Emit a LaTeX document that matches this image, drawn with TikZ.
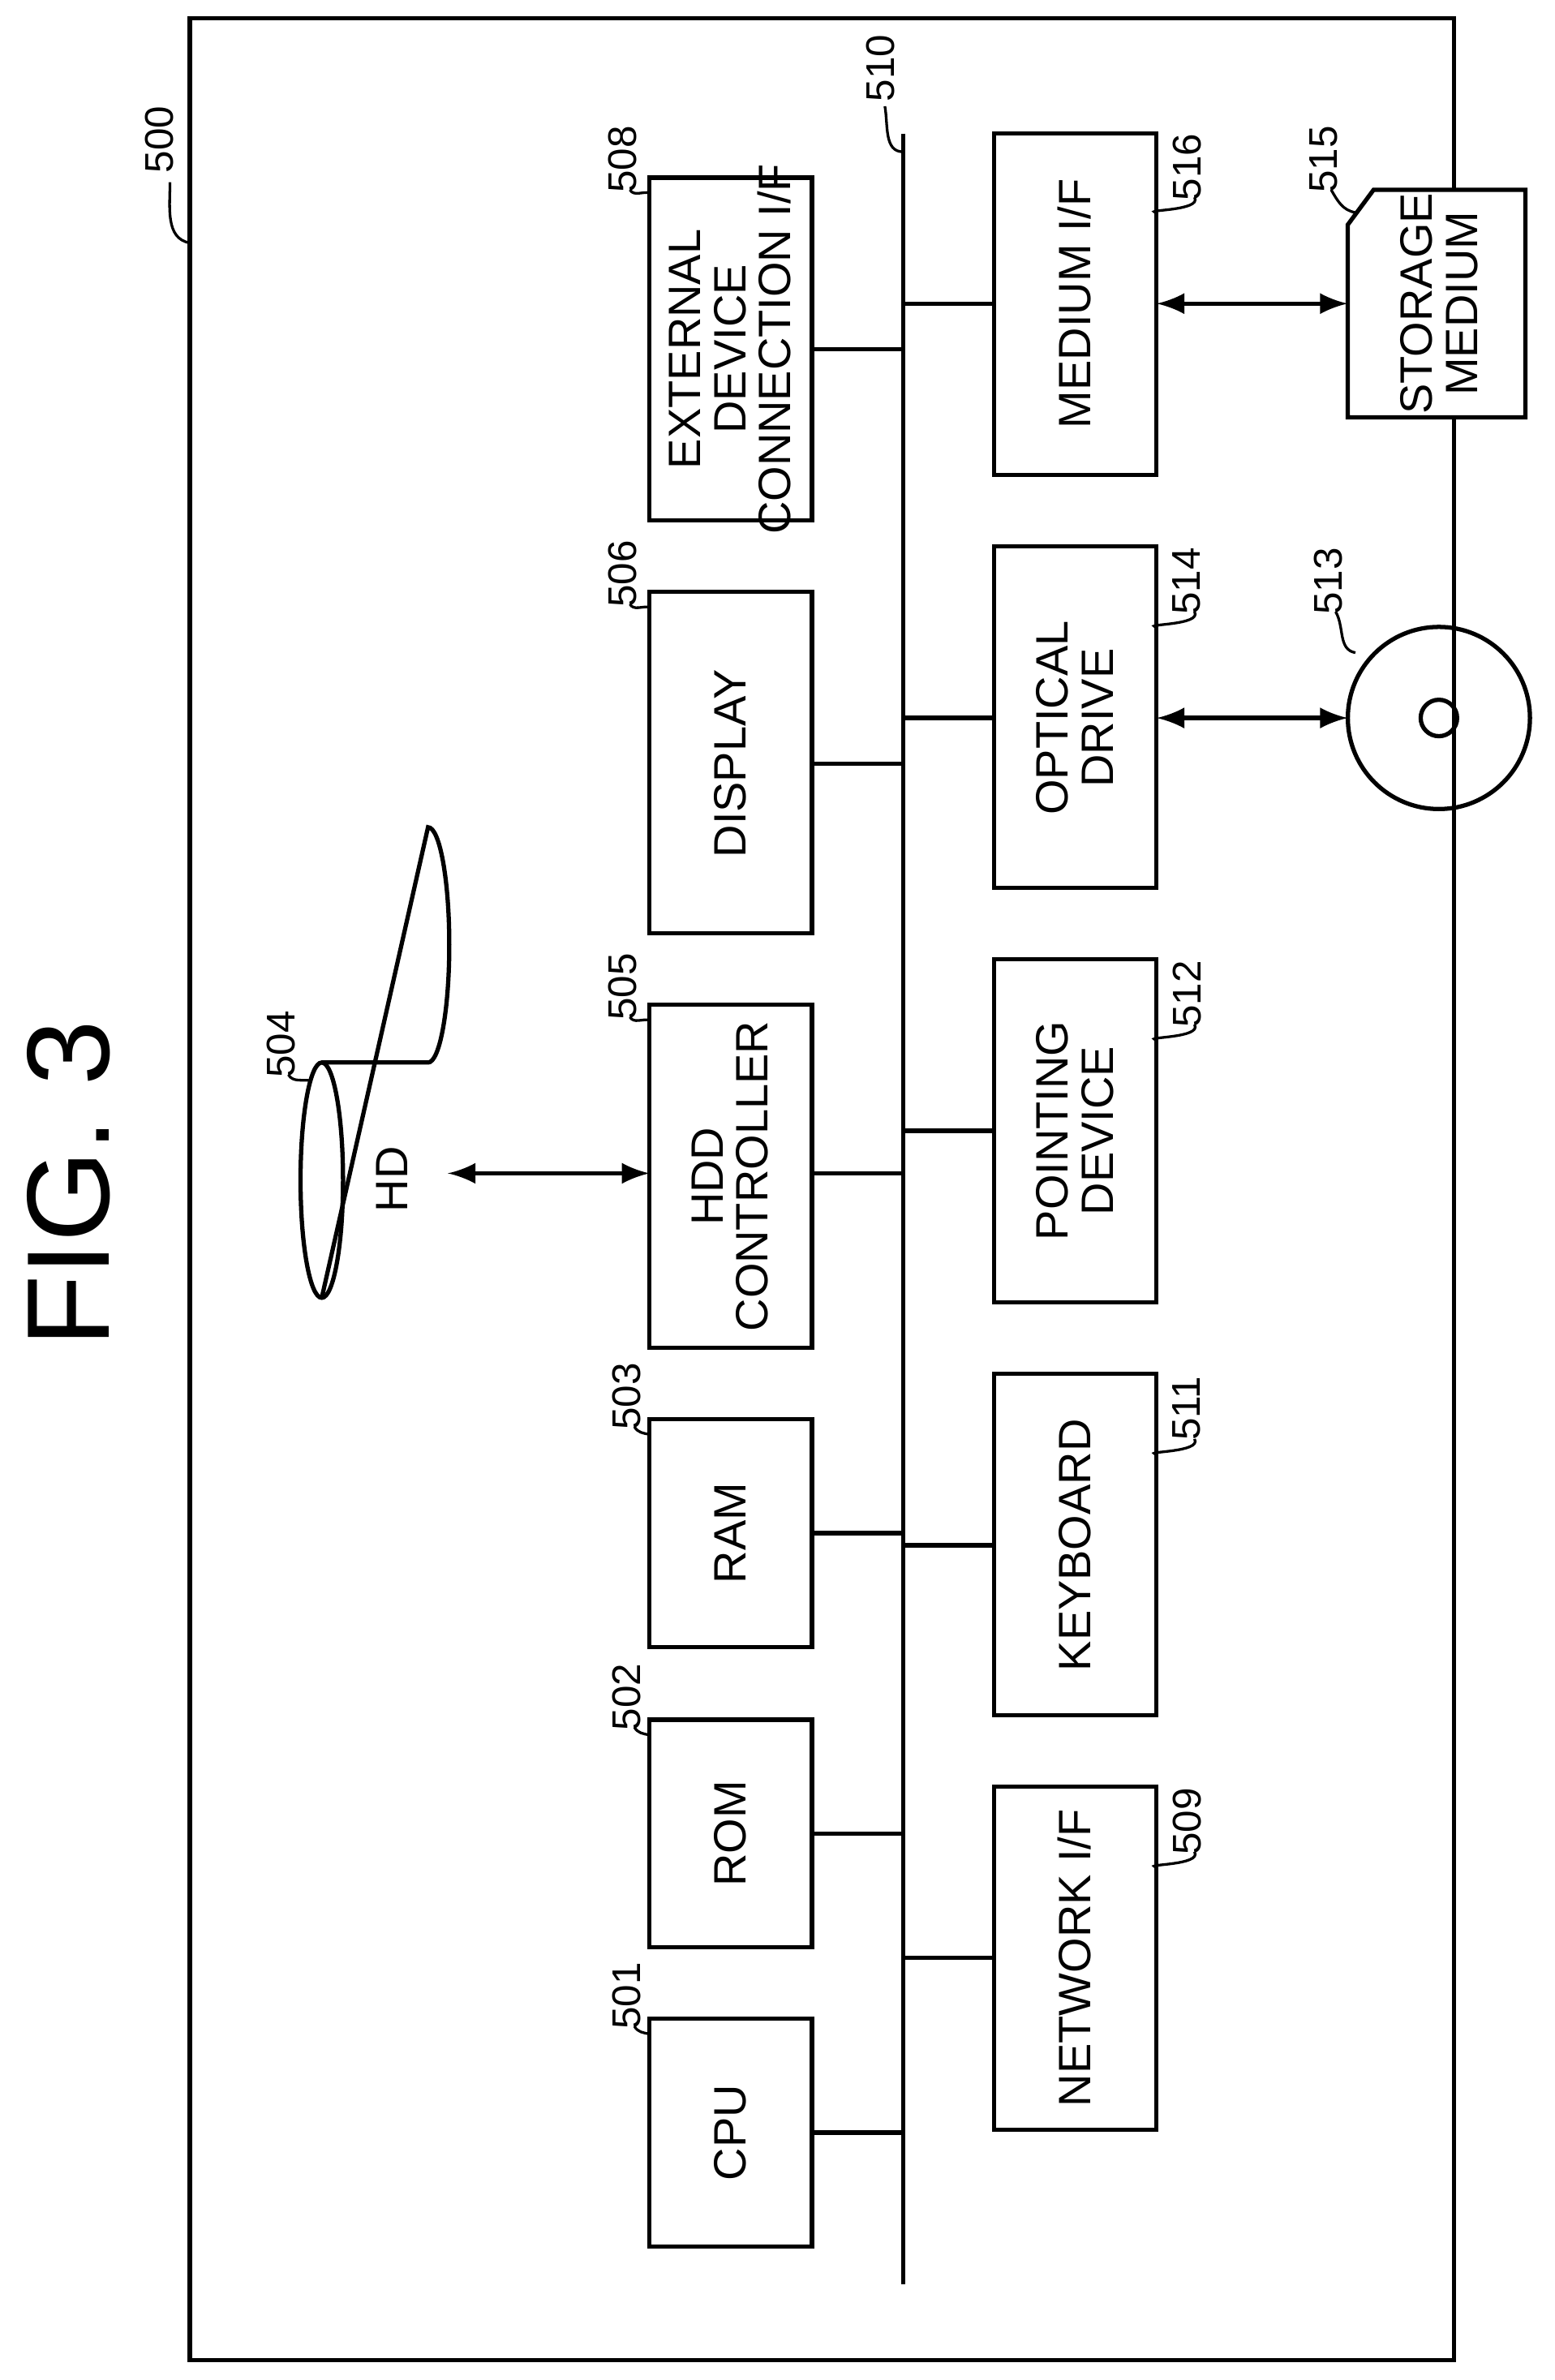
\documentclass[tikz,border=0pt]{standalone}
\usepackage{fontspec}
\setmainfont{Liberation Sans}
\begin{document}
\begin{tikzpicture}[x=0.01cm,y=-0.01cm,line width=0.8pt,
  box/.style={draw, inner sep=0pt},
  txt/.style={rotate=90, align=center, font=\fontsize{8.5}{8.5}\selectfont},
  num/.style={rotate=90, font=\fontsize{7.5}{8}\selectfont, inner sep=1pt},
  lead/.style={line width=0.5pt},
  bio/.style={<->, >=latex}]
\useasboundingbox (0,0) rectangle (1024,1568);
\node[rotate=90, font=\fontsize{22}{24}\selectfont] (fig) at (45,780) {FIG. 3};
\draw (125,12) rectangle (958,1555);
\node[num] (n500) at (105,92) {500};
\draw[lead] (112,120) to[out=-90,in=170] (125,160);

% bus
\draw (595,88) -- (595,1505);
\node[num] (n510) at (580,45) {510};
\draw[lead] (583,70) to[out=-80,in=180] (595,100);

% left column
\draw[box] (428,1330) rectangle (535,1480); \node[txt] (cpu) at (481,1405) {CPU};
\draw[box] (428,1133) rectangle (535,1283); \node[txt] (rom) at (481,1208) {ROM};
\draw[box] (428,935) rectangle (535,1085); \node[txt] (ram) at (481,1010) {RAM};
\draw[box] (428,662) rectangle (535,888); \node[txt] (hddc) at (481,775) {HDD\\CONTROLLER};
\draw[box] (428,390) rectangle (535,615); \node[txt] (disp) at (481,503) {DISPLAY};
\draw[box] (428,117) rectangle (535,343); \node[txt] (extif) at (481,230) {EXTERNAL\\DEVICE\\CONNECTION I/F};
\foreach \y in {1405,1208,1010,773,503,230} \draw (535,\y) -- (595,\y);

% right column
\draw[box] (655,1177) rectangle (762,1403); \node[txt] (netif) at (708,1290) {NETWORK I/F};
\draw[box] (655,905) rectangle (762,1130); \node[txt] (kbd) at (708,1018) {KEYBOARD};
\draw[box] (655,632) rectangle (762,858); \node[txt] (pdev) at (708,745) {POINTING\\DEVICE};
\draw[box] (655,360) rectangle (762,585); \node[txt] (odrv) at (708,473) {OPTICAL\\DRIVE};
\draw[box] (655,88) rectangle (762,313); \node[txt] (medif) at (708,200) {MEDIUM I/F};
\foreach \y in {1290,1018,745,473,200} \draw (595,\y) -- (655,\y);

% HD
\draw (212,700) -- (282,700) arc[start angle=-90,end angle=90,x radius=14,y radius=-77.5] -- (212,855);
\draw (212,777.5) ellipse[x radius=14,y radius=77.5];
\node[txt] (hd) at (258,777) {HD};
\draw[bio] (295,773) -- (428,773);

% disc
\draw (948,473) circle[radius=60];
\draw (948,473) circle[radius=12];
\coordinate (disc) at (888,473);
\draw[bio] (762,473) -- (disc);

% storage medium
\draw[fill=white] (905,125) -- (1005,125) -- (1005,275) -- (888,275) -- (888,148) -- cycle;
\node[txt] (stor) at (948,200) {STORAGE\\MEDIUM};
\coordinate (smed) at (888,200);
\draw[bio] (762,200) -- (smed);

% reference numbers
\foreach \x/\y/\t/\ex/\ey in {413/1315/501/428/1340, 413/1118/502/428/1143, 413/920/503/428/945,
  410/650/505/428/672, 410/378/506/428/400, 410/105/508/428/127, 185/688/504/205/712,
  782/1200/509/762/1230, 782/928/511/762/958, 782/655/512/762/685, 782/383/514/762/413,
  782/110/516/762/140, 875/383/513/893/430, 872/105/515/893/140}
  {\node[num] at (\x,\y) {\t};
   \draw[lead] (\x+5,\y+20) to[out=-60,in=170] (\ex,\ey);}
\end{tikzpicture}
\end{document}
